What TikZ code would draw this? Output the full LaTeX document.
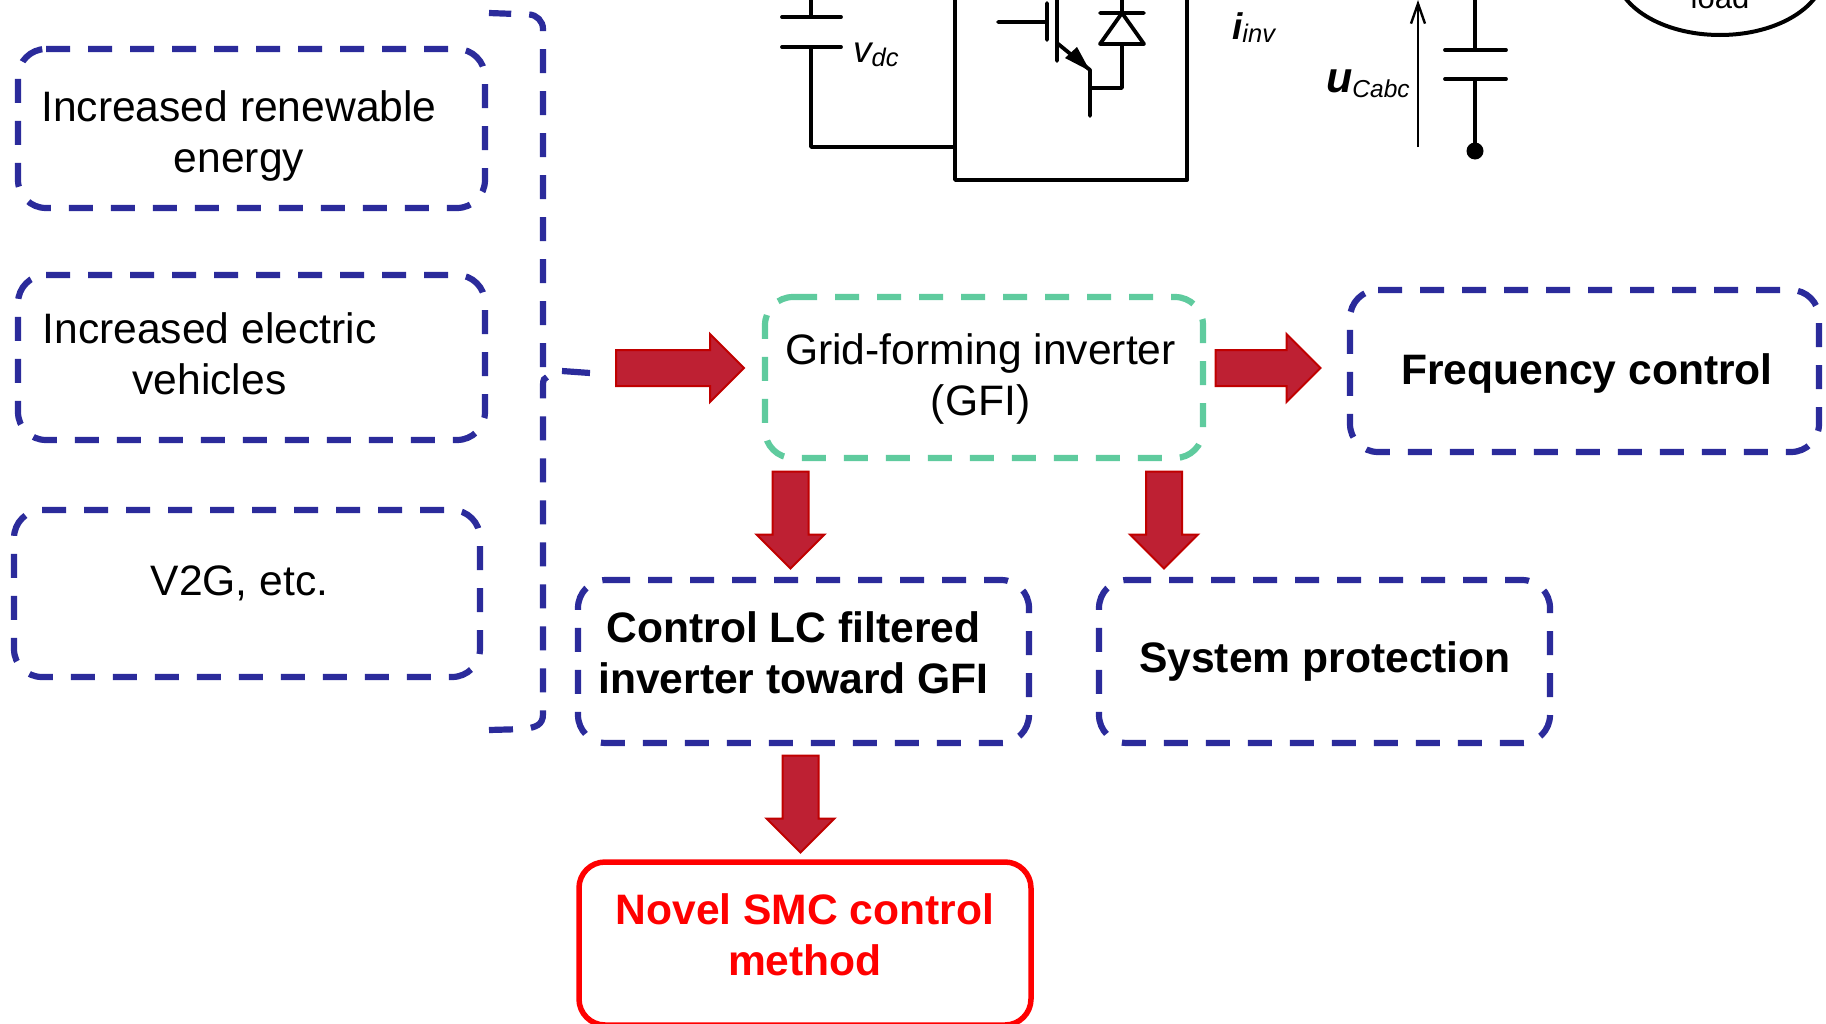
\documentclass[tikz,border=0pt]{standalone}
\usepackage{fontspec}
\setmainfont{Liberation Sans}
\usetikzlibrary{shapes.arrows,arrows.meta}
\definecolor{navyd}{HTML}{2B2B9B}
\definecolor{greend}{HTML}{5FCB9E}
\definecolor{redfill}{HTML}{BE2033}
\definecolor{redline}{HTML}{C00000}
\newcommand{\dashframe}[2]{\draw[dashline,draw=#2] ([xshift=28pt]#1.north west) -- (#1.north east) -- (#1.south east) -- (#1.south west) -- (#1.north west) -- ([xshift=28pt]#1.north west);}
\tikzset{x=1pt,y=-1pt,
 dbox/.style={minimum width=#1,inner sep=0pt,outer sep=0pt},
 dashline/.style={line width=6.2pt,dash pattern=on 24pt off 18pt,rounded corners=28pt},
 rbox/.style={draw=red,line width=5.5pt,rounded corners=26pt,minimum width=#1,inner sep=0pt,outer sep=0pt},
 brace/.style={draw=navyd,line width=6.2pt,dash pattern=on 24pt off 18pt,rounded corners=14pt},
 bracelow/.style={draw=navyd,line width=6.2pt,dash pattern=on 24pt off 18pt,sharp corners},
 txt/.style={font=\fontsize{42.6}{51}\selectfont,align=center,inner sep=0pt},
 btxt/.style={txt,font=\fontsize{42.6}{51}\selectfont\bfseries},
 blockarrow/.style={single arrow,draw=redline,fill=redfill,line width=2pt,inner sep=17pt,outer sep=0pt,single arrow head extend=16pt,minimum width=66pt,minimum height=#1,single arrow tip angle=90},
 wire/.style={draw=black,line width=3.8pt,line cap=round,line join=round},
 ctxt/.style={font=\fontsize{37}{40}\selectfont\itshape,inner sep=0pt,anchor=base west},
}
\newcommand{\subdrop}[2]{\raisebox{#1}{\fontsize{25.5}{26}\selectfont\mdseries #2}}
\begin{document}
\begin{tikzpicture}
\useasboundingbox (0,0) rectangle (1826,1023);
\clip (0,0) rectangle (1826,1023);
% boxes
\node[dbox=467pt,minimum height=159pt] (b1) at (251.5,128.5) {};
\node[dbox=467pt,minimum height=165pt] (b2) at (251.5,357.5) {};
\node[dbox=466pt,minimum height=167pt] (b3) at (247,593.5) {};
\node[dbox=438pt,minimum height=161pt] (gfi) at (984,377.5) {};
\node[dbox=469pt,minimum height=162pt] (freq) at (1584.5,371) {};
\node[dbox=451pt,minimum height=163pt] (ctrl) at (803.5,661.5) {};
\node[dbox=451pt,minimum height=163pt] (sys) at (1324.5,661.5) {};
\node[rbox=452pt,minimum height=163pt] (smc) at (805,943.5) {};
\dashframe{b1}{navyd}
\dashframe{b2}{navyd}
\dashframe{b3}{navyd}
\dashframe{gfi}{greend}
\dashframe{freq}{navyd}
\dashframe{ctrl}{navyd}
\dashframe{sys}{navyd}
% texts
\node[txt] (t1) at (239,136) {Increased renewable\\energy};
\node[txt] (t2) at (209.5,354) {Increased electric\\vehicles};
\node[txt] (t3) at (239.5,583) {V2G, etc.};
\node[txt] (t4) at (980.5,379) {Grid-forming inverter\\(GFI)};
\node[btxt] (t5) at (1587,373) {Frequency control};
\node[btxt] (t6) at (793.5,653) {Control LC filtered\\inverter toward GFI};
\node[btxt] (t7) at (1325,661) {System protection};
\node[btxt,text=red] (t8) at (805,935) {Novel SMC control\\method};
% bracket
\coordinate (ba) at (489,13);
\coordinate (bb) at (543,15);
\coordinate (bc) at (543,367);
\coordinate (bd) at (547,377);
\coordinate (be) at (543,714);
\coordinate (bf) at (489,730);
\coordinate (tk1) at (562,371);
\coordinate (tk2) at (590,373);
\path[brace] (bc) -- (bb) -- (ba);
\path[bracelow] (bf) -- (525,729) .. controls (536,727) and (543,725) .. (be) -- (543,385) .. controls (543,380) and (544,378) .. (bd);
\path[draw=navyd,line width=6.2pt] (tk1) -- (tk2);
% block arrows
\node[blockarrow=128pt] (a1) at (671,368) {};
\node[blockarrow=105pt] (a2) at (1259,368) {};
\node[blockarrow=97pt,shape border rotate=270] (a3) at (790.5,511) {};
\node[blockarrow=97pt,shape border rotate=270] (a4) at (1164,511) {};
\node[blockarrow=97pt,shape border rotate=270] (a5) at (800.5,795) {};
% circuit: dc link
\coordinate (c1) at (811,0);
\coordinate (c2) at (811,17);
\coordinate (c3) at (811,47);
\coordinate (c4) at (811,147);
\coordinate (c5) at (955,147);
\draw[wire] (c1) -- (c2) (782,17) -- (841,17) (782,47) -- (841,47) (c3) -- (c4) -- (c5);
\draw[wire] (955,-5) -- (955,180) -- (1187,180) -- (1187,-5);
\node[ctxt] (vdc) at (853,62) {v\subdrop{-4pt}{dc}};
% IGBT
\draw[wire] (998,22) -- (1047,22) (1047,3) -- (1047,40) (1057,-2) -- (1057,61) (1057,43) -- (1090,70) -- (1090,116) (1090,88) -- (1122,88) -- (1122,44);
\draw[wire] (1100,13) -- (1144,13) (1122,-2) -- (1122,13) (1122,13) -- (1100,44) -- (1144,44) -- cycle;
\fill (1090,71) -- (1065,58) -- (1077,47) -- cycle;
\node[ctxt] (iinv) at (1232,39) {\textbf{i}\subdrop{-3pt}{inv}};
% output capacitor
\draw[wire] (1475,-2) -- (1475,50) (1445,50) -- (1506,50) (1445,79) -- (1506,79) (1475,79) -- (1475,150);
\fill (1475,151) circle (8.5);
\coordinate (u1) at (1418,147);
\coordinate (u2) at (1418,0);
\draw[line width=2.4pt,-{Straight Barb[length=20pt,width=14pt,line width=2.4pt]}] (u1) -- (u2);
\node[ctxt,font=\fontsize{43}{44}\selectfont\itshape] (ucabc) at (1326,92) {\textbf{u}\subdrop{-5pt}{\fontsize{24.5}{26}\selectfont Cabc}};
% load
\draw[line width=4pt] (1720,-30) ellipse (105 and 65);
\node[font=\fontsize{31}{36}\selectfont,inner sep=0pt,anchor=base] (load) at (1720,8) {load};
\end{tikzpicture}
\end{document}
